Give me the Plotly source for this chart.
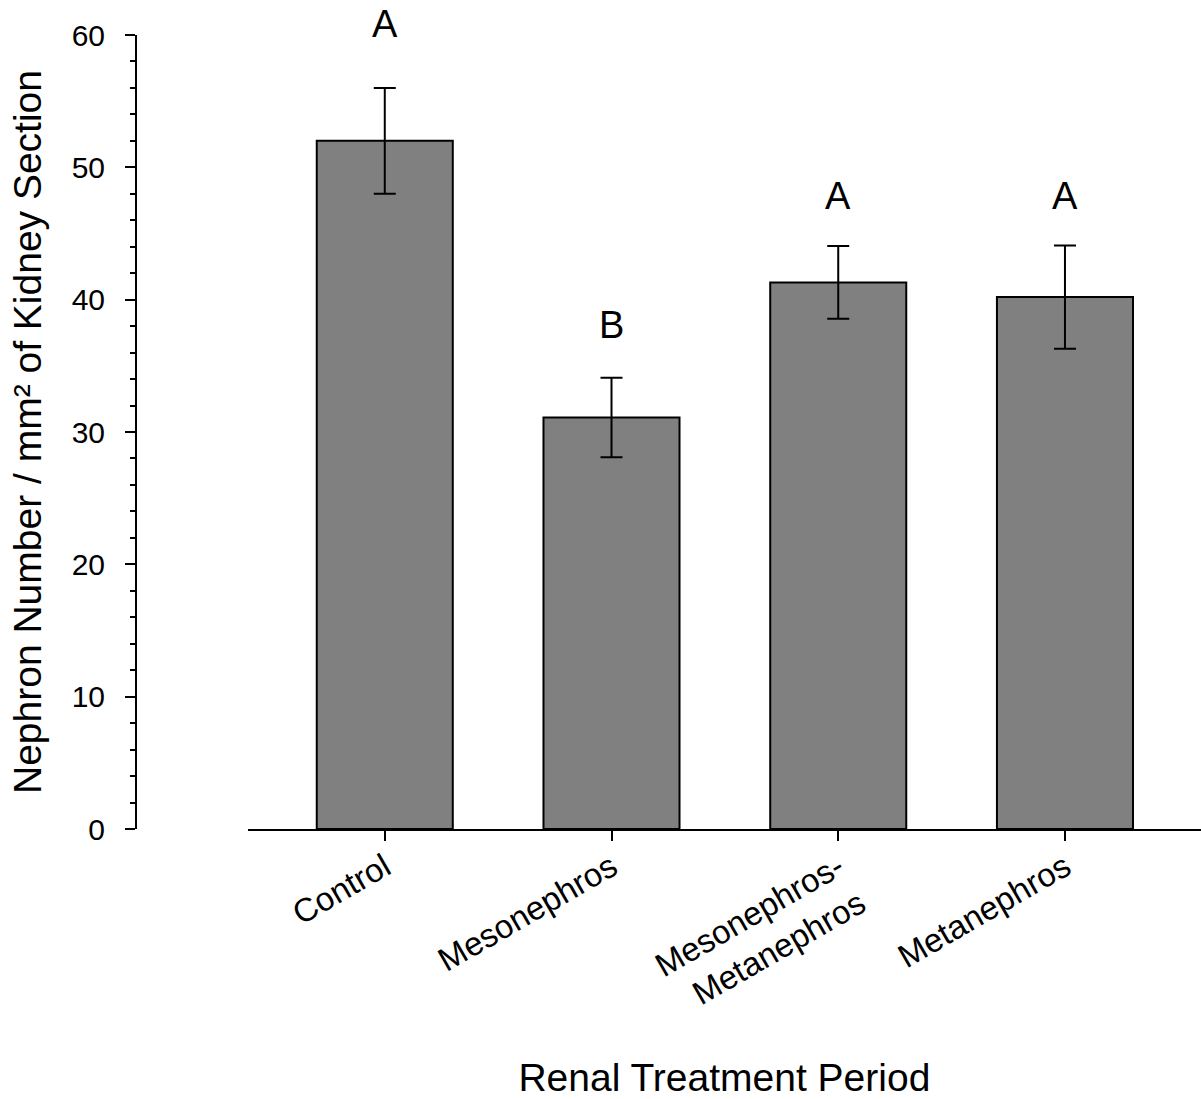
import plotly.graph_objects as go

categories = ["Control", "Mesonephros", "Mesonephros-<br>Metanephros", "Metanephros"]
means = [52.0, 31.1, 41.3, 40.2]
errors = [4.0, 3.0, 2.75, 3.9]
letters = ["A", "B", "A", "A"]
letter_y = [60.8, 38.1, 47.8, 47.8]
y_tick_vals = [0, 10, 20, 30, 40, 50, 60]
Y_MAX = 60

FONT = "Liberation Sans, Arial, sans-serif"

fig = go.Figure()
fig.add_trace(go.Bar(
    x=categories, y=means, width=0.6,
    marker=dict(color="#808080", line=dict(color="black", width=2)),
    error_y=dict(type="data", array=errors, visible=True, color="black",
                 thickness=2, width=11),
    showlegend=False,
))

for c, l, ly in zip(categories, letters, letter_y):
    fig.add_annotation(x=c, y=ly / Y_MAX, xref="x", yref="paper", text=l, showarrow=False,
                       font=dict(family=FONT, size=38, color="black"),
                       yanchor="middle")

fig.update_layout(
    width=1201, height=1099,
    margin=dict(l=136, r=0, t=35, b=270),
    paper_bgcolor="white", plot_bgcolor="white",
    font=dict(family=FONT, color="black"),
    xaxis=dict(
        type="category", range=[-0.604, 3.6], domain=[0.105, 1],
        automargin=False,
        showline=True, linecolor="black", linewidth=2,
        ticks="outside", ticklen=10, tickwidth=2, tickcolor="black",
        tickangle=-30, tickfont=dict(size=33, family=FONT), ticklabelstandoff=-6,
        showgrid=False, zeroline=False,
        title=dict(text="Renal Treatment Period", font=dict(size=39, family=FONT), standoff=58),
    ),
    yaxis=dict(
        range=[0, Y_MAX], anchor="free", position=0,
        automargin=False,
        showline=True, linecolor="black", linewidth=2,
        tickvals=y_tick_vals,
        ticks="outside", ticklen=10, tickwidth=2, tickcolor="black",
        minor=dict(dtick=2, ticks="outside", ticklen=5, tickwidth=2, tickcolor="black"),
        tickfont=dict(size=30, family=FONT), ticklabelstandoff=14,
        showgrid=False, zeroline=False,
        title=dict(text="Nephron Number / mm² of Kidney Section", font=dict(size=39, family=FONT), standoff=17),
    ),
)

fig.write_html("out.html")
